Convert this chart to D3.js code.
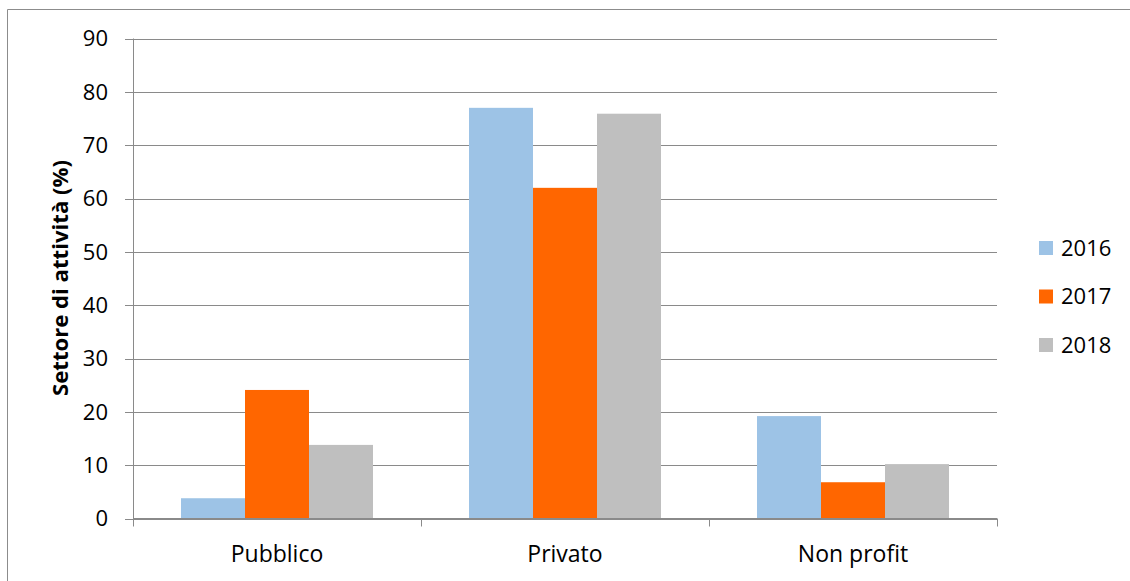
<!DOCTYPE html>
<html><head><meta charset="utf-8">
<script src="https://cdn.jsdelivr.net/npm/d3@7"></script>
<style>body{margin:0;background:#fff}svg{display:block}text{font-family:"Open Sans",sans-serif}</style>
</head><body><svg id="c" width="1130" height="581"></svg>
<script>
const categories = ["Pubblico", "Privato", "Non profit"];
const seriesNames = ["2016", "2017", "2018"];
const values2016 = [3.8, 77, 19.2];
const values2017 = [24.1, 62, 6.8];
const values2018 = [13.8, 75.9, 10.2];
const yTicks = [0, 10, 20, 30, 40, 50, 60, 70, 80, 90];
const colors = ["#9DC3E6", "#FF6600", "#BFBFBF"];
const series = [values2016, values2017, values2018];

const svg = d3.select("#c");
const m = {l:133, r:997, t:38.5, b:518.5};
svg.append("line").attr("x1",7.5).attr("x2",1130).attr("y1",9.5).attr("y2",9.5).attr("stroke","#8c8c8c");
svg.append("line").attr("x1",7.5).attr("x2",7.5).attr("y1",9.5).attr("y2",581).attr("stroke","#8c8c8c");

const x = d3.scaleBand().domain(categories).range([m.l, m.r]).paddingInner(0).paddingOuter(0);
const y = d3.scaleLinear().domain([0, 90]).range([m.b, m.t]);
const inner = d3.scaleBand().domain(seriesNames).range([0, x.bandwidth()]).paddingInner(0).paddingOuter(0.75);

svg.append("g").selectAll("line").data(yTicks).join("line")
  .attr("x1", m.l-8).attr("x2", m.r).attr("y1", d=>Math.round(y(d))+0.5).attr("y2", d=>Math.round(y(d))+0.5)
  .attr("stroke", "#8a8a8a").attr("stroke-width", 1);

categories.forEach((c, i) => {
  series.forEach((s, j) => {
    svg.append("rect")
      .attr("x", x(c) + inner(seriesNames[j]))
      .attr("width", inner.bandwidth())
      .attr("y", y(s[i]))
      .attr("height", y(0) - y(s[i]))
      .attr("fill", colors[j]);
  });
});

svg.append("line").attr("x1", m.l+0.5).attr("x2", m.l+0.5).attr("y1", m.t).attr("y2", m.b).attr("stroke","#8a8a8a");
svg.append("line").attr("x1", m.l).attr("x2", m.r).attr("y1", m.b).attr("y2", m.b).attr("stroke","#8a8a8a");
const xt = [m.l, ...categories.map(c => x(c) + x.bandwidth())];
svg.append("g").selectAll("line").data(xt).join("line")
  .attr("x1", d=>Math.round(d)+0.5).attr("x2", d=>Math.round(d)+0.5).attr("y1", m.b).attr("y2", m.b+8).attr("stroke","#8a8a8a");

svg.append("g").selectAll("text").data(yTicks).join("text")
  .attr("x", 108).attr("y", d=>y(d)).attr("dy","0.36em").attr("text-anchor","end")
  .attr("font-size", 22).attr("fill","#000").text(d=>d);

svg.append("g").selectAll("text").data(categories).join("text")
  .attr("x", d=>x(d)+x.bandwidth()/2).attr("y", 562).attr("text-anchor","middle")
  .attr("font-size", 23).attr("fill","#000").text(d=>d);

svg.append("text").attr("transform","translate(68,278) rotate(-90)").attr("text-anchor","middle")
  .attr("font-size", 21).attr("font-weight","bold").attr("fill","#000")
  .attr("textLength", 236).attr("lengthAdjust","spacingAndGlyphs").text("Settore di attività (%)");

const lg = svg.append("g");
seriesNames.forEach((n, j) => {
  const cy = 248 + j*48.5;
  lg.append("rect").attr("x", 1039).attr("y", cy-7).attr("width", 14).attr("height", 14).attr("fill", colors[j]);
  lg.append("text").attr("x", 1061).attr("y", cy).attr("dy","0.36em").attr("font-size", 22).attr("fill","#000").text(n);
});
</script></body></html>
